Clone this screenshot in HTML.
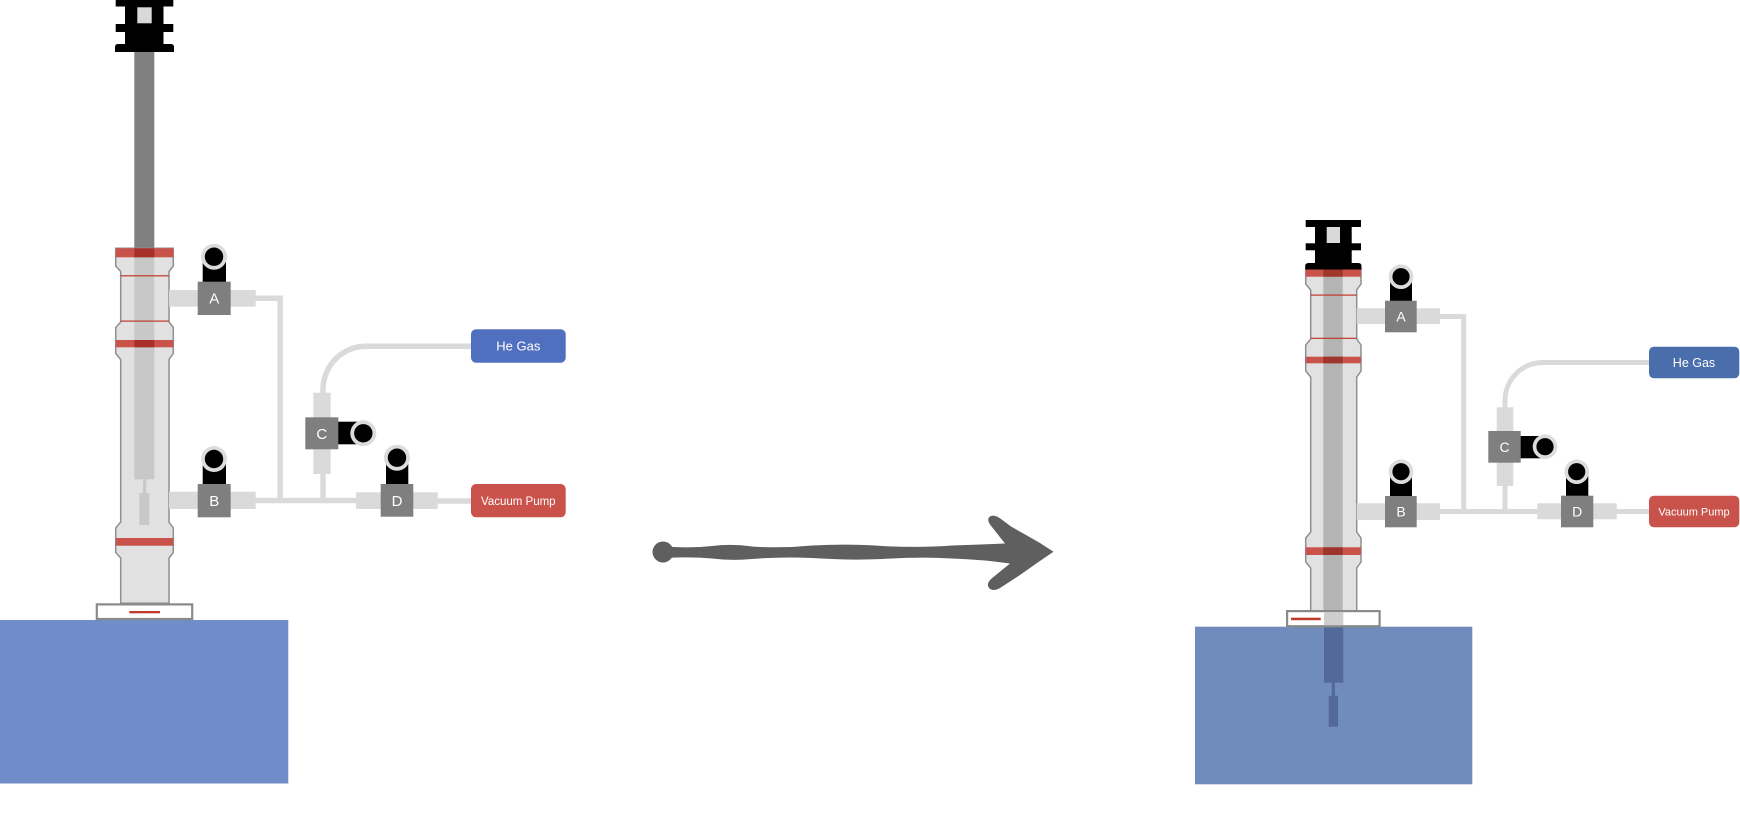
<!DOCTYPE html>
<html>
<head>
<meta charset="utf-8">
<style>
html,body{margin:0;padding:0;background:#fff;}
svg{display:block;}
text{font-family:"Liberation Sans",Arial,sans-serif;fill:#fff;}
</style>
</head>
<body>
<svg width="1740" height="824" viewBox="0 0 1740 824" xmlns="http://www.w3.org/2000/svg">
<rect x="0" y="0" width="1740" height="824" fill="#fff"/>

<!-- ================= LEFT APPARATUS ================= -->
<!-- water -->
<rect x="0" y="620" width="288.3" height="163.5" fill="#718dc9"/>

<!-- gray rod above -->
<rect x="134.3" y="50" width="20" height="200" fill="#808080"/>

<!-- cap -->
<g fill="#000">
  <rect x="115.7" y="0" width="57.6" height="6.5"/>
  <rect x="125" y="6" width="38.5" height="19"/>
  <rect x="115.7" y="24" width="57.6" height="8"/>
  <rect x="125" y="31.5" width="38.5" height="14"/>
  <path d="M118,44 L171,44 Q174,44 174,47 L174,52 L115,52 L115,47 Q115,44 118,44 Z"/>
</g>
<rect x="137.3" y="7.3" width="14.4" height="16" fill="#d9d9d9"/>

<!-- tube -->
<path d="M115.7,248.3 L173.3,248.3 L173.3,266 L169,271.5 L169,322 L173.3,327.5 L173.3,353.5 L169,359.5 L169,522 L173.3,528 L173.3,552.5 L169,558 L169,603.3 L120.7,603.3 L120.7,558 L115.7,552.5 L115.7,528 L120.7,522 L120.7,359.5 L115.7,353.5 L115.7,327.5 L120.7,322 L120.7,271.5 L115.7,266 Z" fill="#e1e1e1" stroke="#8f8f8f" stroke-width="1.5"/>
<!-- inner rod -->
<rect x="134.3" y="248.3" width="20" height="231" fill="#c8c8c8"/>
<rect x="143" y="479" width="3.2" height="14.5" fill="#c8c8c8"/>
<rect x="139.3" y="493" width="10" height="32" fill="#c8c8c8"/>
<!-- red bands -->
<rect x="115.7" y="248.3" width="57.6" height="9" fill="#c9524a"/>
<rect x="134.3" y="248.3" width="20" height="9" fill="#a72f27"/>
<rect x="115.7" y="340" width="57.6" height="7.3" fill="#c9524a"/>
<rect x="134.3" y="340" width="20" height="7.3" fill="#a72f27"/>
<rect x="115.7" y="538" width="57.6" height="7.7" fill="#c9524a"/>
<!-- thin red lines -->
<rect x="120.7" y="275.2" width="48.3" height="1.2" fill="#c0392b"/>
<rect x="120.7" y="320.5" width="48.3" height="1.2" fill="#c0392b"/>
<!-- base plate -->
<rect x="96.8" y="604.4" width="95.4" height="14.6" fill="#fff" stroke="#8a8a8a" stroke-width="2.2"/>
<rect x="129.3" y="611" width="30.7" height="2.3" fill="#c0392b"/>

<!-- pipes -->
<g fill="none" stroke="#dadada" stroke-width="5.5">
  <path d="M255,298.3 L280.2,298.3 L280.2,500.5"/>
  <path d="M255,500.5 L358,500.5"/>
  <path d="M323,474 L323,500.5"/>
  <path d="M323,394 L323,389.3 A43,43 0 0 1 366,346.3 L472,346.3"/>
  <path d="M437,501 L472,501"/>
</g>
<g fill="#dadada">
  <rect x="169" y="290" width="86.7" height="16.7"/>
  <rect x="169" y="491.7" width="86.7" height="17.3"/>
  <rect x="313.3" y="392.7" width="17.4" height="81.3"/>
  <rect x="356" y="492.3" width="81.7" height="16.7"/>
</g>

<!-- valve A -->
<rect x="202.7" y="256.7" width="23.3" height="26" fill="#000"/>
<circle cx="214" cy="256.7" r="13" fill="#dcdcdc"/>
<circle cx="214" cy="256.7" r="9.2" fill="#000"/>
<rect x="197.7" y="281.7" width="33" height="33.3" fill="#7f7f7f"/>
<text x="214.2" y="303.5" font-size="15" text-anchor="middle">A</text>

<!-- valve B -->
<rect x="202.7" y="459" width="23.3" height="26" fill="#000"/>
<circle cx="214" cy="459" r="13" fill="#dcdcdc"/>
<circle cx="214" cy="459" r="9.2" fill="#000"/>
<rect x="197.7" y="484" width="33" height="33.3" fill="#7f7f7f"/>
<text x="214.2" y="506" font-size="15" text-anchor="middle">B</text>

<!-- valve C -->
<rect x="337.5" y="421.7" width="26" height="22.6" fill="#000"/>
<circle cx="363.3" cy="433.3" r="13" fill="#dcdcdc"/>
<circle cx="363.3" cy="433.3" r="9.2" fill="#000"/>
<rect x="305.3" y="417.3" width="33" height="32" fill="#7f7f7f"/>
<text x="321.8" y="438.8" font-size="15" text-anchor="middle">C</text>

<!-- valve D -->
<rect x="386" y="457.7" width="22.3" height="27" fill="#000"/>
<circle cx="397" cy="457.7" r="13" fill="#dcdcdc"/>
<circle cx="397" cy="457.7" r="9.2" fill="#000"/>
<rect x="380.7" y="484" width="32.6" height="32.7" fill="#7f7f7f"/>
<text x="397" y="505.8" font-size="15" text-anchor="middle">D</text>

<!-- labels -->
<rect x="471" y="329.3" width="94.7" height="33.4" rx="5" fill="#5070bf"/>
<text x="518.3" y="350.5" font-size="13" text-anchor="middle">He Gas</text>
<rect x="471" y="484" width="94.7" height="33.3" rx="5" fill="#c9524a"/>
<text x="518.3" y="505" font-size="11.5" text-anchor="middle">Vacuum Pump</text>

<!-- ================= ARROW ================= -->
<g fill="#5f5f5f">
  <circle cx="663" cy="552" r="10.5"/>
  <path d="M666,546.5 Q690,548.5 712,546 Q732,543.5 752,546.5 Q782,548.5 812,545.5 Q850,543.5 882,546 Q920,548 952,545.5 Q982,544.5 1005,543.5 L990,524.5 Q986,518 991,516 Q995,514.5 1001,519 L1011,526.5 L1026,535 L1040,543 L1053.5,551.7 L1037,563 L1020,575 L1000,588 Q993,592 989,588 Q986,584 991,579 L1010,563.5 Q982,559.5 952,558.5 Q920,556.5 882,559 Q850,560.5 812,558 Q782,556.5 752,559 Q732,561 712,558.5 Q690,556.5 666,558 Z"/>
</g>

<!-- ================= RIGHT APPARATUS ================= -->
<!-- water -->
<rect x="1195" y="626.7" width="277.3" height="157.6" fill="#6f8cbc"/>
<rect x="1324" y="627.3" width="19.3" height="55.4" fill="#53699a"/>
<rect x="1331.7" y="682.7" width="3.3" height="13" fill="#53699a"/>
<rect x="1328.7" y="695.7" width="9.3" height="31" fill="#53699a"/>

<!-- tube -->
<path d="M1305.7,269.3 L1361,269.3 L1361,284 L1356.7,290 L1356.7,339 L1361,345 L1361,371 L1356.7,377 L1356.7,532 L1361,538 L1361,562 L1356.7,568 L1356.7,610.7 L1310.7,610.7 L1310.7,568 L1305.7,562 L1305.7,538 L1310.7,532 L1310.7,377 L1305.7,371 L1305.7,345 L1310.7,339 L1310.7,290 L1305.7,284 Z" fill="#e1e1e1" stroke="#8f8f8f" stroke-width="1.5"/>
<rect x="1323.3" y="269.3" width="19.4" height="341.4" fill="#b4b4b4"/>
<!-- red bands -->
<rect x="1305.7" y="269.3" width="55.3" height="7.4" fill="#c9524a"/>
<rect x="1323.3" y="269.3" width="19.4" height="7.4" fill="#a0352c"/>
<rect x="1305.7" y="356.7" width="55.3" height="6.6" fill="#c9524a"/>
<rect x="1323.3" y="356.7" width="19.4" height="6.6" fill="#9e352c"/>
<rect x="1305.7" y="547.3" width="55.3" height="7.7" fill="#c9524a"/>
<rect x="1323.3" y="547.3" width="19.4" height="7.7" fill="#9e352c"/>
<rect x="1310.7" y="294.5" width="46" height="1.2" fill="#c0392b"/>
<rect x="1310.7" y="337.7" width="46" height="1.2" fill="#c0392b"/>

<!-- cap -->
<g fill="#000">
  <rect x="1305.7" y="220" width="55.3" height="7"/>
  <rect x="1315" y="226.5" width="36.7" height="17.3"/>
  <rect x="1305.7" y="243.3" width="55.3" height="7"/>
  <rect x="1315" y="250" width="36.7" height="13.5"/>
  <path d="M1308.5,263 L1358.2,263 Q1361.5,263 1361.5,266 L1361.5,269.5 L1305.2,269.5 L1305.2,266 Q1305.2,263 1308.5,263 Z"/>
</g>
<rect x="1326.7" y="227" width="13.3" height="16" fill="#d9d9d9"/>

<!-- base plate -->
<rect x="1287.1" y="611.1" width="92.5" height="15.1" fill="#fff" stroke="#8a8a8a" stroke-width="2.2"/>
<rect x="1324" y="612.2" width="19.3" height="12.9" fill="#cecece"/>
<rect x="1291" y="617.7" width="29.7" height="2.5" fill="#c0392b"/>

<!-- pipes -->
<g fill="none" stroke="#dadada" stroke-width="5">
  <path d="M1439,316.5 L1463.7,316.5 L1463.7,511.5"/>
  <path d="M1439,511.5 L1539,511.5"/>
  <path d="M1505,486 L1505,511.5"/>
  <path d="M1505,408 L1505,400.5 A38,38 0 0 1 1543,362.5 L1650,362.5"/>
  <path d="M1616,511.5 L1650,511.5"/>
</g>
<g fill="#dadada">
  <rect x="1356.7" y="308.3" width="83.3" height="15.7"/>
  <rect x="1356.7" y="503.3" width="83.3" height="16.7"/>
  <rect x="1496.7" y="407.3" width="16.6" height="78.7"/>
  <rect x="1537.3" y="503.3" width="79.4" height="16"/>
</g>

<!-- valve A -->
<rect x="1390" y="276.7" width="22" height="25" fill="#000"/>
<circle cx="1401" cy="276.7" r="12.3" fill="#dcdcdc"/>
<circle cx="1401" cy="276.7" r="8.6" fill="#000"/>
<rect x="1385" y="300.7" width="31.7" height="31.6" fill="#7f7f7f"/>
<text x="1401" y="321.5" font-size="14" text-anchor="middle">A</text>

<!-- valve B -->
<rect x="1390" y="471.7" width="22" height="25" fill="#000"/>
<circle cx="1401" cy="471.7" r="12.3" fill="#dcdcdc"/>
<circle cx="1401" cy="471.7" r="8.6" fill="#000"/>
<rect x="1385" y="496" width="31.7" height="31.3" fill="#7f7f7f"/>
<text x="1401" y="516.7" font-size="14" text-anchor="middle">B</text>

<!-- valve C -->
<rect x="1520" y="436" width="25" height="22.3" fill="#000"/>
<circle cx="1545" cy="446.7" r="12.3" fill="#dcdcdc"/>
<circle cx="1545" cy="446.7" r="8.6" fill="#000"/>
<rect x="1488.3" y="431" width="32.4" height="31.7" fill="#7f7f7f"/>
<text x="1504.5" y="451.8" font-size="14" text-anchor="middle">C</text>

<!-- valve D -->
<rect x="1566" y="471.7" width="22.3" height="25" fill="#000"/>
<circle cx="1576.7" cy="471.7" r="12.3" fill="#dcdcdc"/>
<circle cx="1576.7" cy="471.7" r="8.6" fill="#000"/>
<rect x="1561" y="495.7" width="32.3" height="31.6" fill="#7f7f7f"/>
<text x="1577.2" y="516.5" font-size="14" text-anchor="middle">D</text>

<!-- labels -->
<rect x="1649" y="346.7" width="90.3" height="31.6" rx="5" fill="#4a6dab"/>
<text x="1694" y="366.8" font-size="12.5" text-anchor="middle">He Gas</text>
<rect x="1649" y="495.7" width="90.3" height="31.6" rx="5" fill="#c9524a"/>
<text x="1694" y="515.5" font-size="11" text-anchor="middle">Vacuum Pump</text>
</svg>
</body>
</html>
